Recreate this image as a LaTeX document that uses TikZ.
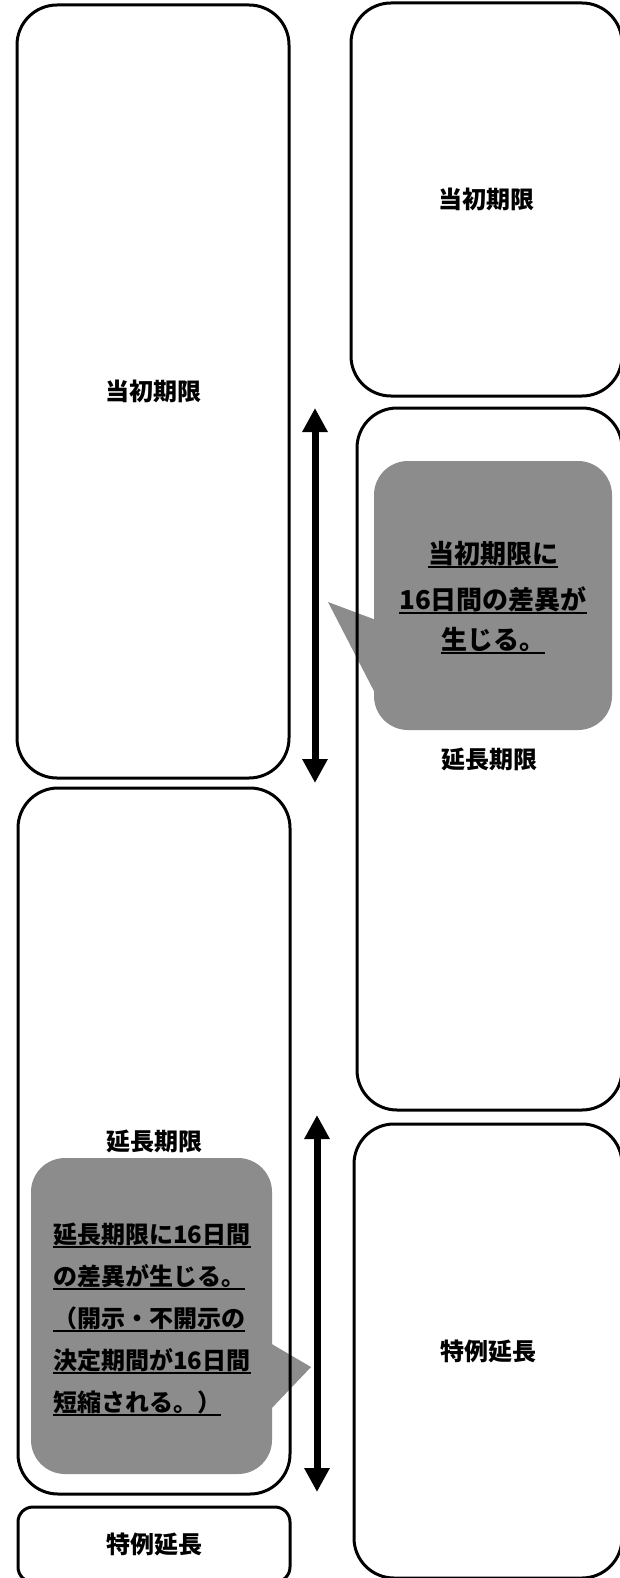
\documentclass[tikz,border=0pt]{standalone}
\usepackage{fontspec}
\newfontfamily\jp{Noto Sans CJK JP}
\usetikzlibrary{arrows.meta}
\begin{document}
\begin{tikzpicture}[x=1pt,y=-1pt,
  box/.style={draw=black, line width=3pt, rounded corners=40pt, inner sep=0pt,
    font=\jp\bfseries\fontsize{24}{28}\selectfont},
  bubble/.style={fill=black!45},
  ctextR/.style={inner sep=0pt, anchor=base, font=\jp\bfseries\fontsize{26}{30}\selectfont},
  ctextL/.style={inner sep=0pt, anchor=base west, font=\jp\bfseries\fontsize{24}{28}\selectfont},
  ulin/.style={line width=1.8pt},
  span/.style={line width=7pt, {Triangle[width=24pt,length=24pt]}-{Triangle[width=24pt,length=24pt]}}]
\useasboundingbox (0,0) rectangle (620,1578);
\clip (0,0) rectangle (620,1578);
\fill[white] (0,0) rectangle (620,1578);

% callout 1 (right)
\fill[bubble, rounded corners=34pt] (374,461) rectangle (612,730);
\fill[bubble] (376,620) -- (328,602) -- (376,695) -- cycle;
% callout 2 (left)
\fill[bubble, rounded corners=34pt] (31,1158) rectangle (272,1474);
\fill[bubble] (270,1343) -- (311,1367) -- (270,1410) -- cycle;

% boxes
\node[box, minimum width=272pt, minimum height=773pt] (L1) at (153,391.5) {当初期限};
\node[box, minimum width=272pt, minimum height=706pt] (L2) at (154,1141) {延長期限};
\node[box, rounded corners=15pt, minimum width=272pt, minimum height=75pt] (L3) at (154,1544.5) {特例延長};
\node[box, minimum width=271pt, minimum height=393pt] (R1) at (486.5,199.5) {当初期限};
\node[box, minimum width=265pt, minimum height=702pt] (R2) at (489.5,759) {延長期限};
\node[box, minimum width=268pt, minimum height=454pt] (R3) at (488,1351) {特例延長};

% arrows
\coordinate (a1s) at (315,408);
\coordinate (a1e) at (315,783);
\coordinate (a2s) at (317,1115);
\coordinate (a2e) at (317,1492);
\draw[span] (a1s) -- (a1e);
\draw[span] (a2s) -- (a2e);

% callout 1 text
\node[ctextR] (c1a) at (493,563) {当初期限に};
\node[ctextR] (c1b) at (493,609) {16日間の差異が};
\node[ctextR] (c1c) at (493,649) {生じる。};
\foreach \n in {c1a,c1b,c1c}
  \draw[ulin] ([yshift=-4pt]\n.base west) -- ([yshift=-4pt]\n.base east);

% callout 2 text
\node[ctextL] (c2a) at (53,1243) {延長期限に16日間};
\node[ctextL] (c2b) at (53,1285) {の差異が生じる。};
\node[ctextL] (c2c) at (53,1327) {（開示・不開示の};
\node[ctextL] (c2d) at (53,1369) {決定期間が16日間};
\node[ctextL] (c2e) at (53,1411) {短縮される。）};
\foreach \n in {c2a,c2b,c2c,c2d,c2e}
  \draw[ulin] ([yshift=-4pt]\n.base west) -- ([yshift=-4pt]\n.base east);
\end{tikzpicture}
\end{document}
